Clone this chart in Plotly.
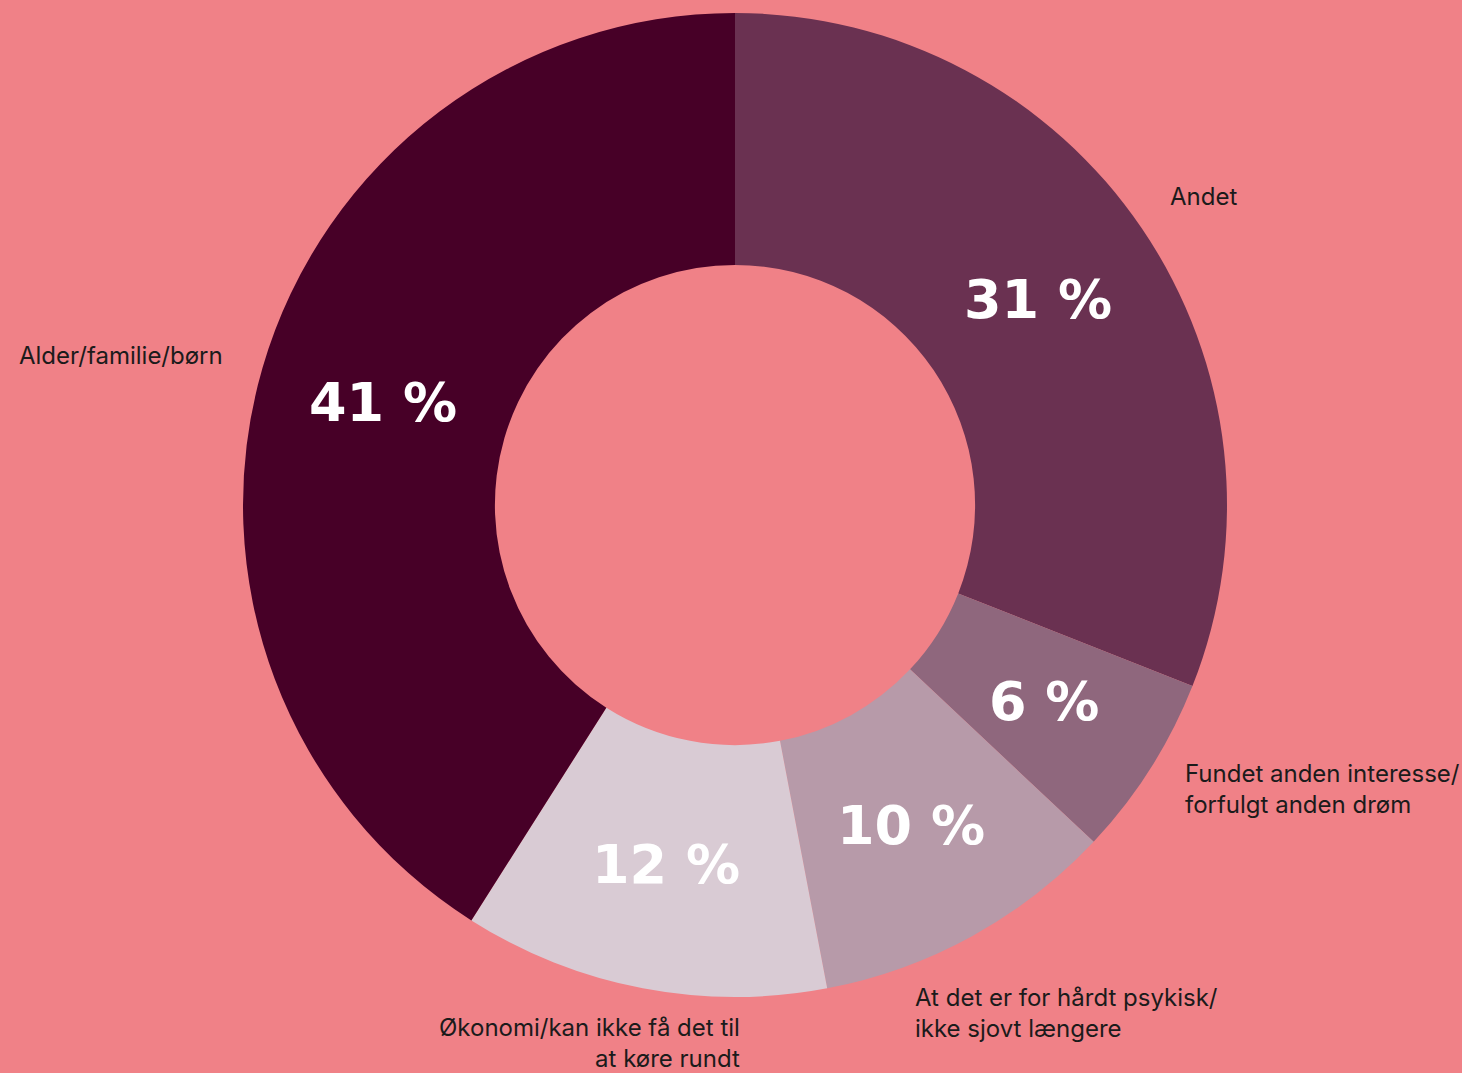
import math
import plotly.graph_objects as go

# Data
categories = ["Andet", "Fundet anden interesse/<br>forfulgt anden drøm",
              "At det er for hårdt psykisk/<br>ikke sjovt længere",
              "Økonomi/kan ikke få det til<br>at køre rundt", "Alder/familie/børn"]
values = [31, 6, 10, 12, 41]
pct_labels = [f"{v} %" for v in values]
colors = ["#6a3151", "#8f677d", "#b79aa9", "#d9cbd4", "#470027"]

W, H = 1462, 1073
BG = "#f08187"

# pie geometry (pixels)
cx, cy, R = 735, 505, 492
HOLE = 0.488

fig = go.Figure(go.Pie(
    values=values,
    labels=[c.replace("<br>", " ") for c in categories],
    textinfo="none",
    marker=dict(colors=colors, line=dict(width=0)),
    hole=HOLE,
    sort=False,
    direction="clockwise",
    rotation=0,
    hoverinfo="skip",
    showlegend=False,
    domain=dict(x=[(cx - R) / W, (cx + R) / W], y=[(H - cy - R) / H, (H - cy + R) / H]),
))

annotations = []

# percentage labels at the middle of each slice's ring (derived from the values)
total = sum(values)
cum = 0
r_mid = R * (1 + HOLE) / 2
for v, t in zip(values, pct_labels):
    mid = (cum + v / 2) / total * 2 * math.pi
    cum += v
    px = cx + r_mid * math.sin(mid)
    py = cy - r_mid * math.cos(mid)
    annotations.append(dict(
        x=px / W, y=1 - py / H, xref="paper", yref="paper",
        text=t, showarrow=False, xanchor="center", yanchor="middle",
        font=dict(family="DejaVu Sans", size=54, color="white", weight="bold"),
    ))

# category label placement (pixel positions, anchors)
label_pos = [(1168, 196, "left"), (1183, 789, "left"), (913, 1013, "left"),
             (742, 1043, "right"), (225, 356, "right")]

for cat, (px, py, anc) in zip(categories, label_pos):
    annotations.append(dict(
        x=px / W, y=1 - py / H, xref="paper", yref="paper",
        text=cat, showarrow=False, xanchor=anc, yanchor="middle", align=anc,
        font=dict(family="Inter", size=24, color="#1b1b1b"),
    ))

fig.update_layout(
    width=W, height=H,
    margin=dict(l=0, r=0, t=0, b=0),
    paper_bgcolor=BG, plot_bgcolor=BG,
    annotations=annotations,
)

fig.write_html("out.html")
